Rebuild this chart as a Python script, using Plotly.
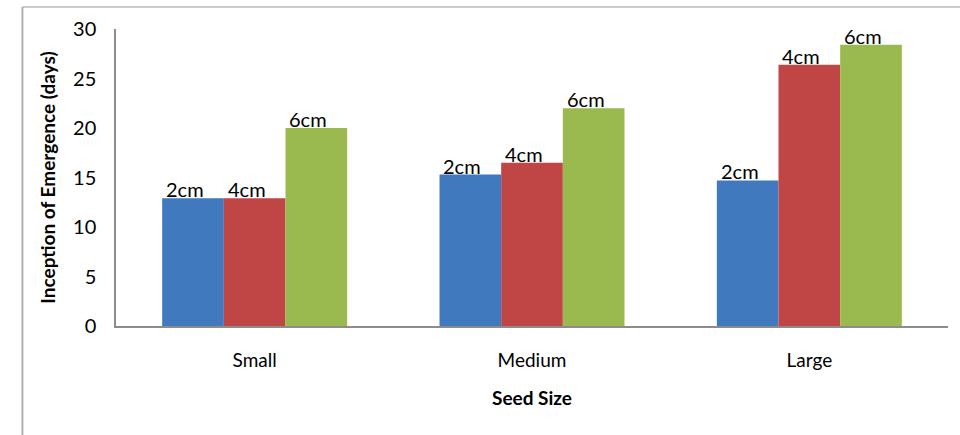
import plotly.graph_objects as go

categories = ["Small", "Medium", "Large"]
series_names = ["2cm", "4cm", "6cm"]
values_2cm = [12.9, 15.3, 14.7]
values_4cm = [12.9, 16.5, 26.4]
values_6cm = [20.0, 22.0, 28.4]
y_ticks = [0, 5, 10, 15, 20, 25, 30]

colors = ["#4079BE", "#C04645", "#9AB94F"]
series_values = [values_2cm, values_4cm, values_6cm]

FONT = "Lato"
BAR_PX = 61.7  # pixel width of one bar (plot width 832 / 3 categories * 0.667 / 3)

fig = go.Figure()
for name, vals, col in zip(series_names, series_values, colors):
    fig.add_trace(go.Bar(
        x=categories, y=vals, name=name,
        marker=dict(color=col, line=dict(width=0)),
    ))

annotations = []
for i, (name, vals) in enumerate(zip(series_names, series_values)):
    for cat, v in zip(categories, vals):
        annotations.append(dict(
            x=cat, y=v, xref="x", yref="y", text=name, showarrow=False,
            xanchor="center", yanchor="bottom",
            xshift=(i - 1) * BAR_PX - 8, yshift=-5,
            font=dict(family=FONT, size=20, color="#000000"),
        ))

fig.update_layout(
    width=960, height=435,
    margin=dict(l=116, r=12, t=29, b=109),
    paper_bgcolor="white", plot_bgcolor="white",
    barmode="group", bargap=0.333, bargroupgap=0,
    showlegend=False,
    annotations=annotations,
    xaxis=dict(
        showgrid=False, showline=True, linecolor="#8C8C8C", linewidth=1.5,
        ticks="", tickfont=dict(family=FONT, size=19, color="#000000"),
        ticklabelstandoff=16,
        title=dict(text="<b>Seed Size</b>", font=dict(family=FONT, size=19, color="#000000"), standoff=22),
    ),
    yaxis=dict(
        range=[0, 30], tickvals=y_ticks, showgrid=False, zeroline=False,
        showline=True, linecolor="#8C8C8C", linewidth=1.5,
        ticks="", tickfont=dict(family=FONT, size=20, color="#000000"),
        ticklabelstandoff=14,
        title=dict(text="<b>Inception of Emergence (days)</b>", font=dict(family=FONT, size=19, color="#000000"), standoff=12),
    ),
    shapes=[
        dict(type="line", xref="paper", yref="paper", x0=-0.1125, x1=1.02, y0=1.074, y1=1.074,
             line=dict(color="#BBBBBB", width=1.5)),
        dict(type="line", xref="paper", yref="paper", x0=-0.1125, x1=-0.1125, y0=1.074, y1=-0.4,
             line=dict(color="#B0B0B0", width=2)),
    ],
)

fig.write_html("out.html")
